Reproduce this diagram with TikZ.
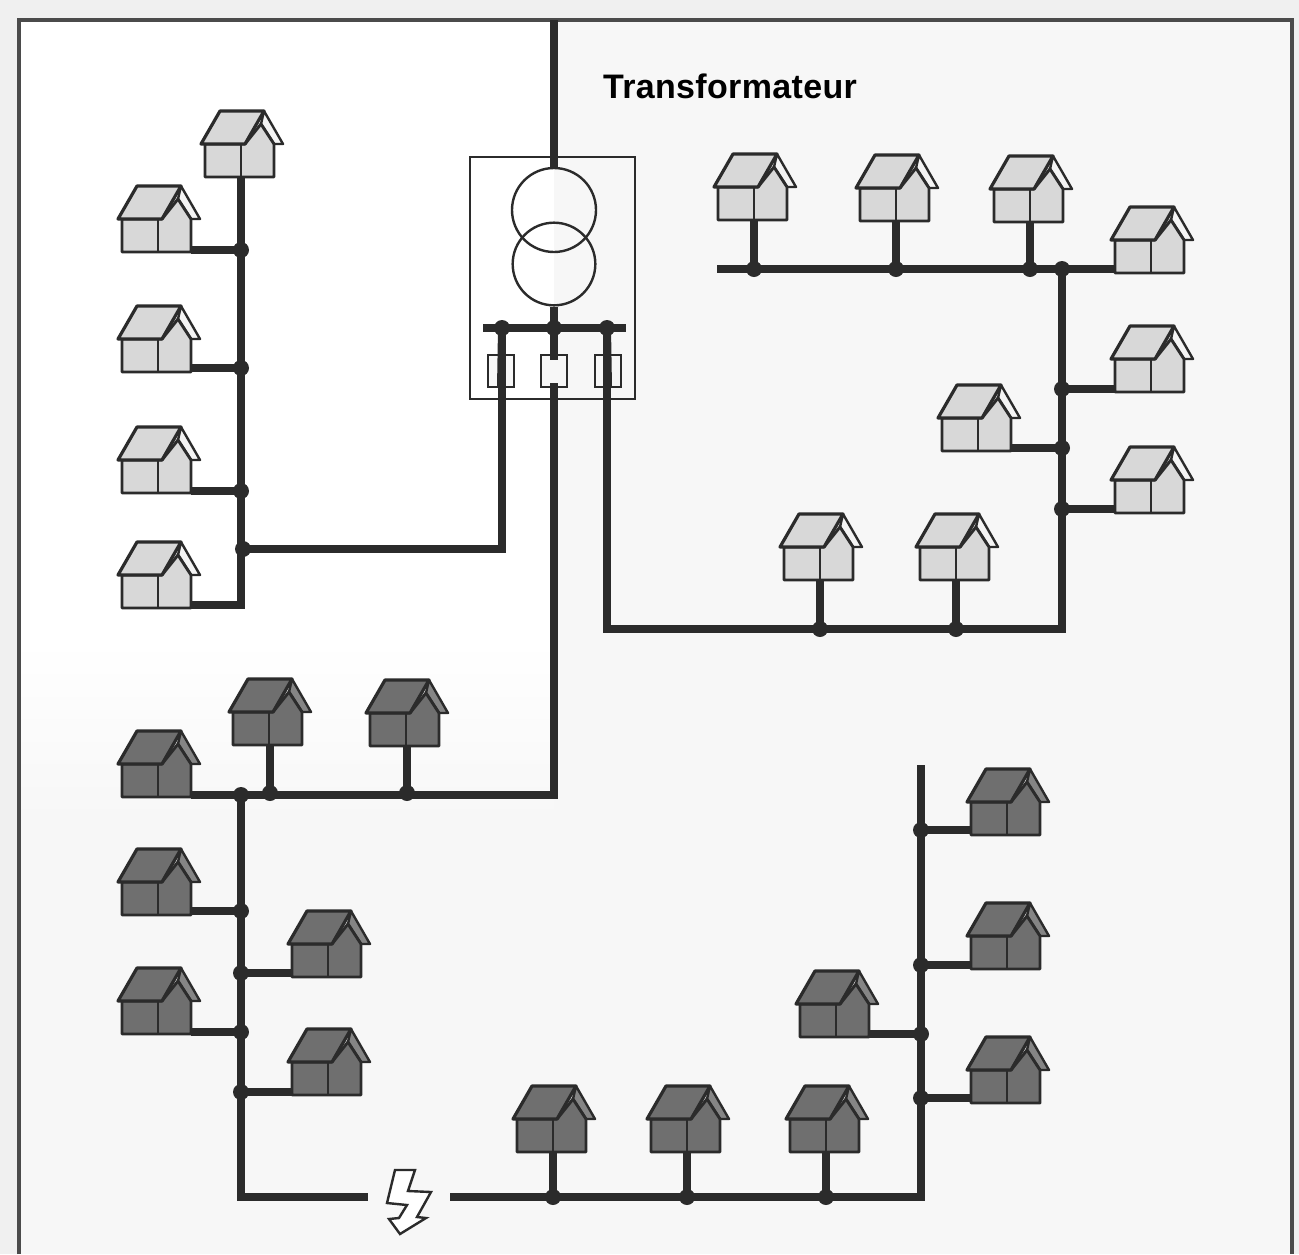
\documentclass[tikz,border=0pt]{standalone}
\usepackage{fontspec}
\setmainfont{Liberation Sans}
\definecolor{ink}{HTML}{2B2B2B}
\definecolor{lightH}{HTML}{D8D8D8}
\definecolor{darkH}{HTML}{6F6F6F}
\definecolor{lightHstrip}{HTML}{F4F4F4}
\definecolor{darkHstrip}{HTML}{858585}
\definecolor{paper}{HTML}{F7F7F7}
\definecolor{outer}{HTML}{F0F0F0}
\tikzset{
  wire/.style={draw=ink,line width=6pt,line cap=butt,line join=miter},
  frameline/.style={draw=ink!85,line width=3pt},
  junc/.style={circle,fill=ink,inner sep=0pt,minimum size=12pt},
  fuse/.style={draw=ink,line width=1.5pt,fill=paper,minimum width=19.5pt,minimum height=24pt,inner sep=0pt},
  coil/.style={circle,draw=ink,line width=1.8pt,inner sep=0pt},
  pics/house/.style={code={
    \coordinate (-b) at (0,0);
    \coordinate (-r) at (33,-2);
    \coordinate (-l) at (-36,-2);
    \filldraw[fill=#1strip,draw=ink,line width=1.8pt,line join=round] (23,-66) -- (42,-33) -- (33,-33) -- (20,-53) -- cycle;
    \filldraw[fill=#1,draw=ink,line width=2.2pt,line join=round] (-36,-33) -- (-36,0) -- (33,0) -- (33,-33) -- (20,-53) -- (4,-33) -- cycle;
    \draw[draw=ink,line width=2.2pt] (0,-33) -- (0,0);
    \filldraw[fill=#1,draw=ink,line width=2.4pt,line join=round] (-21,-66) -- (23,-66) -- (4,-33) -- (-40,-33) -- cycle;
  }}
}
\begin{document}
\begin{tikzpicture}[x=0.75pt,y=-0.75pt]
\useasboundingbox (0,0) rectangle (1299,1254);
\fill[outer] (0,0) rectangle (1299,1254);
\fill[paper] (20,20) rectangle (1292,1254);
\fill[white] (20,20) rectangle (554,640);
\shade[top color=white,bottom color=paper] (20,640) rectangle (554,820);
\draw[frameline] (19,1254) -- (19,20) -- (1292,20) -- (1292,1254);

% transformer
\node[draw=ink,line width=1.5pt,minimum width=123.75pt,minimum height=181.5pt,inner sep=0pt] (box) at (552.5,278) {};
\coordinate (feed) at (554,20);
\node[coil,minimum size=63pt] (c1) at (554,210) {};
\node[coil,minimum size=62pt] (c2) at (554,264) {};
\node[junc] (bA) at (502,328) {};
\node[junc] (bB) at (554,328) {};
\node[junc] (bC) at (607,328) {};
\coordinate (busL) at (483,328);
\coordinate (busR) at (626,328);
\node[fuse] (fA) at (501,371) {};
\node[fuse] (fB) at (554,371) {};
\node[fuse] (fC) at (608,371) {};
\draw[wire] (feed) -- (c1.north);
\draw[wire] (c2.south) -- (bB.center);
\draw[wire] (busL) -- (busR);
\coordinate (fBt) at (554,360);
\coordinate (fBb) at (554,383);
\draw[wire] (bB.center) -- (fBt);

% left light group
\node[junc] (a1) at (241,250) {};
\node[junc] (a2) at (241,368) {};
\node[junc] (a3) at (241,491) {};
\node[junc] (a4) at (243,549) {};
\coordinate (a5) at (241,605);
\pic (h1) at (241,177) {house=lightH};
\pic (h2) at (158,252) {house=lightH};
\pic (h3) at (158,372) {house=lightH};
\pic (h4) at (158,493) {house=lightH};
\pic (h5) at (158,608) {house=lightH};
\draw[wire] (h1-b) -- (a1.center) -- (a2.center) -- (a3.center) -- (a5) -- (a5 -| h5-r);
\draw[wire] (a1.center) -- (a1.center -| h2-r);
\draw[wire] (a2.center) -- (a2.center -| h3-r);
\draw[wire] (a3.center) -- (a3.center -| h4-r);
\draw[wire] (a4.center) -- (bA.center |- a4.center) -- (bA.center);

% right light group
\coordinate (bs) at (717,269);
\node[junc] (b1) at (754,269) {};
\node[junc] (b2) at (896,269) {};
\node[junc] (b3) at (1030,269) {};
\node[junc] (b4) at (1062,269) {};
\node[junc] (b5) at (1062,389) {};
\node[junc] (b6) at (1062,448) {};
\node[junc] (b7) at (1062,509) {};
\node[junc] (b8) at (956,629) {};
\node[junc] (b9) at (820,629) {};
\pic (r1) at (754,220) {house=lightH};
\pic (r2) at (896,221) {house=lightH};
\pic (r3) at (1030,222) {house=lightH};
\pic (r4) at (1151,273) {house=lightH};
\pic (r5) at (1151,392) {house=lightH};
\pic (r6) at (978,451) {house=lightH};
\pic (r7) at (1151,513) {house=lightH};
\pic (r8) at (820,580) {house=lightH};
\pic (r9) at (956,580) {house=lightH};
\draw[wire] (bs) -- (b4.center -| r4-l);
\draw[wire] (b1.center) -- (b1.center |- r1-b);
\draw[wire] (b2.center) -- (b2.center |- r2-b);
\draw[wire] (b3.center) -- (b3.center |- r3-b);
\draw[wire] (b5.center) -- (b5.center -| r5-l);
\draw[wire] (b6.center) -- (b6.center -| r6-r);
\draw[wire] (b7.center) -- (b7.center -| r7-l);
\draw[wire] (b8.center) -- (b8.center |- r9-b);
\draw[wire] (b9.center) -- (b9.center |- r8-b);
\draw[wire] (b4.center) -- (b8.center -| b4.center) -- (b8.center) -- (b9.center) -- (b9.center -| bC.center) -- (bC.center);

% dark group left
\node[junc] (d1) at (241,795) {};
\node[junc] (d2) at (270,793) {};
\node[junc] (d3) at (407,793) {};
\node[junc] (d4) at (241,911) {};
\node[junc] (d5) at (241,973) {};
\node[junc] (d6) at (241,1032) {};
\node[junc] (d7) at (241,1092) {};
\pic (k1) at (158,797) {house=darkH};
\pic (k2) at (269,745) {house=darkH};
\pic (k3) at (406,746) {house=darkH};
\pic (k4) at (158,915) {house=darkH};
\pic (k5) at (328,977) {house=darkH};
\pic (k6) at (158,1034) {house=darkH};
\pic (k7) at (328,1095) {house=darkH};
\draw[wire] (fBb) -- (fBb |- d1.center) -- (d1.center -| k1-r);
\draw[wire] (d2.center) -- (d2.center |- k2-b);
\draw[wire] (d3.center) -- (d3.center |- k3-b);
\draw[wire] (d4.center) -- (d4.center -| k4-r);
\draw[wire] (d5.center) -- (d5.center -| k5-l);
\draw[wire] (d6.center) -- (d6.center -| k6-r);
\draw[wire] (d7.center) -- (d7.center -| k7-l);

% fault and dark group bottom right
\coordinate (gapL) at (368,1197);
\coordinate (gapR) at (450,1197);
\node[junc] (e1) at (553,1197) {};
\node[junc] (e2) at (687,1197) {};
\node[junc] (e3) at (826,1197) {};
\coordinate (e4) at (921,1197);
\coordinate (etop) at (921,765);
\node[junc] (e5) at (921,1098) {};
\node[junc] (e6) at (921,1034) {};
\node[junc] (e7) at (921,965) {};
\node[junc] (e8) at (921,830) {};
\pic (m1) at (553,1152) {house=darkH};
\pic (m2) at (687,1152) {house=darkH};
\pic (m3) at (826,1152) {house=darkH};
\pic (m4) at (1007,1103) {house=darkH};
\pic (m5) at (836,1037) {house=darkH};
\pic (m6) at (1007,969) {house=darkH};
\pic (m7) at (1007,835) {house=darkH};
\draw[wire] (d1.center) -- (d1.center |- gapL) -- (gapL);
\draw[wire] (gapR) -- (e4) -- (etop);
\draw[wire] (e1.center) -- (e1.center |- m1-b);
\draw[wire] (e2.center) -- (e2.center |- m2-b);
\draw[wire] (e3.center) -- (e3.center |- m3-b);
\draw[wire] (e5.center) -- (e5.center -| m4-l);
\draw[wire] (e6.center) -- (e6.center -| m5-r);
\draw[wire] (e7.center) -- (e7.center -| m6-l);
\draw[wire] (e8.center) -- (e8.center -| m7-l);

% fuse wires over the box
\draw[wire] (bA.center) -- (fA.south);
\draw[wire] (bC.center) -- (fC.south);

% lightning
\draw[draw=ink,line width=1.8pt,fill=white,line join=miter]
  (395,1170) -- (415,1170) -- (408,1191) -- (431,1192) -- (417,1217) -- (426,1218)
  -- (400,1234) -- (389,1219) -- (399,1218) -- (407,1205) -- (387,1203) -- cycle;

\node[font=\bfseries\fontsize{25.5}{28}\selectfont,text=black,inner sep=0pt] (label) at (730,86) {\addfontfeatures{LetterSpace=1}Transformateur};
\end{tikzpicture}
\end{document}
